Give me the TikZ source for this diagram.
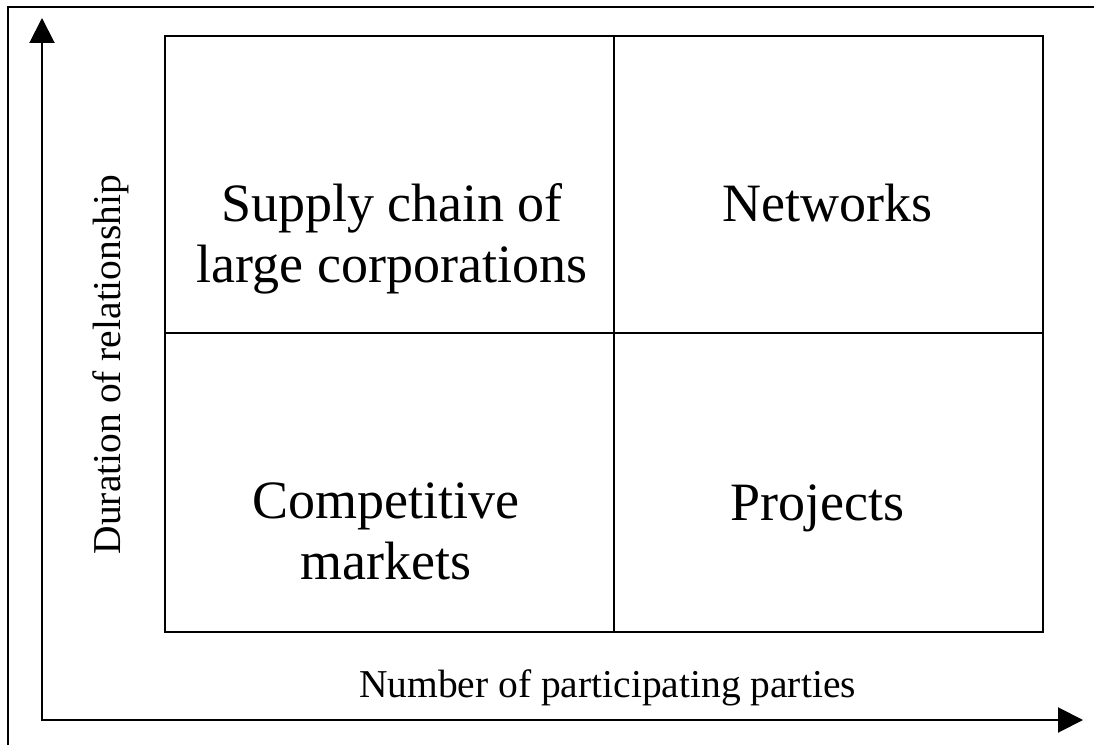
\documentclass[tikz,border=0pt]{standalone}
\usepackage{fontspec}
\setmainfont{Liberation Serif}
\usetikzlibrary{arrows.meta}
\begin{document}
\begin{tikzpicture}[x=1pt,y=1pt,
    celltext/.style={font=\fontsize{54}{61}\selectfont, align=center, inner sep=0pt, anchor=base},
    axislabel/.style={font=\fontsize{39.5}{45}\selectfont, inner sep=0pt, anchor=base},
    axis/.style={line width=2pt, line cap=rect, -{Triangle[length=25pt,width=25pt]}}]
  \useasboundingbox (0,0) rectangle (1094,745);
  % frame
  \draw[line width=1.5pt] (8,0) -- (8,738) -- (1094,738);
  % axes
  \coordinate (o) at (42,25);
  \coordinate (ytip) at (42,727);
  \coordinate (xtip) at (1083,25);
  \draw[axis] (o) -- (ytip);
  \draw[axis] (o) -- (xtip);
  % the four fields
  \coordinate (sw) at (165,113);
  \coordinate (ne) at (1043,709);
  \coordinate (s) at (614,113);
  \coordinate (n) at (614,709);
  \coordinate (w) at (165,412);
  \coordinate (e) at (1043,412);
  \begin{scope}[line width=2pt]
    \draw (sw) rectangle (ne);
    \draw (s) -- (n);
    \draw (w) -- (e);
  \end{scope}
  \node[celltext] (supply) at (392,462) {Supply chain of\\large corporations};
  \node[celltext] (networks) at (827.5,523) {Networks};
  \node[celltext] (markets) at (386,166) {Competitive\\markets};
  \node[celltext] (projects) at (817.5,225) {Projects};
  \node[axislabel] (parties) at (607.5,48) {Number of participating parties};
  \node[axislabel, rotate=90] (duration) at (120,380.5) {Duration of relationship};
\end{tikzpicture}
\end{document}
